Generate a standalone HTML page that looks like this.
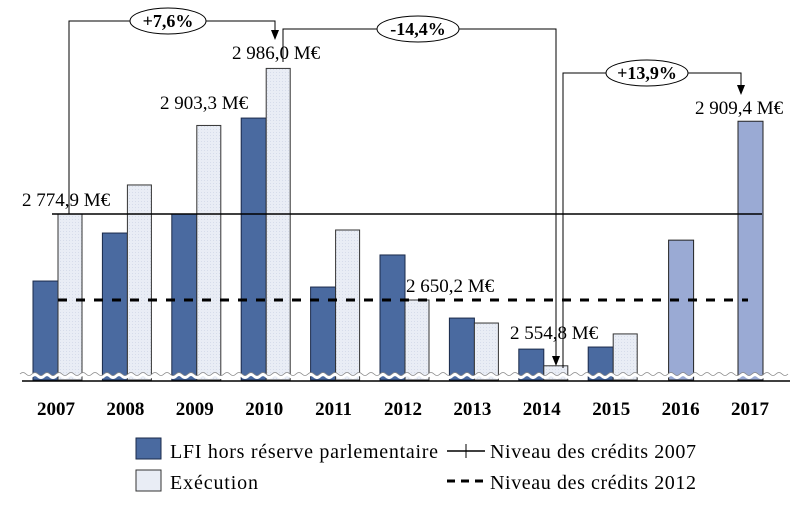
<!DOCTYPE html>
<html><head><meta charset="utf-8"><style>
body{margin:0;background:#fff;}
svg{display:block;font-family:"Liberation Serif",serif;}
</style></head><body>
<svg id="chart" width="811" height="512" viewBox="0 0 811 512">
<defs>
<pattern id="lp" width="3" height="3" patternUnits="userSpaceOnUse"><rect width="3" height="3" fill="#e9edf5"/><rect width="1" height="1" fill="#d6dcea"/></pattern>
</defs>
<g id="bars"></g>
<g id="overlay"></g>
</svg>
<script>
const years=['2007','2008','2009','2010','2011','2012','2013','2014','2015','2016','2017'];
const lfi=[2677.7,2747.3,2774.9,2914,2669,2715.5,2624,2579,2582,null,null];
const exec=[2774.9,2817,2903.3,2986,2751.7,2650.2,2616.8,2554.8,2601,null,null];
const plf=[null,null,null,null,null,null,null,null,null,2737,2909.4];
const level2007=2774.9, level2012=2650.2;
const NS='http://www.w3.org/2000/svg';
const y=v=>214-(v-2774.9)/1.45;
const cx=i=>56+i*69.4;
const baseY=380;
function el(t,a,p){const e=document.createElementNS(NS,t);for(const k in a)e.setAttribute(k,a[k]);(p||document.getElementById('bars')).appendChild(e);return e;}
years.forEach((yr,i)=>{
  const c=cx(i);
  if(lfi[i]!=null){const r=el('rect',{x:c-23,y:y(lfi[i]),width:25,height:baseY-y(lfi[i]),fill:'#4a6aa0',stroke:'#1a2a4a','stroke-width':1});
    }
  if(exec[i]!=null){const r=el('rect',{x:c+2,y:y(exec[i]),width:24,height:baseY-y(exec[i]),fill:'url(#lp)',stroke:'#333','stroke-width':1});
    }
  if(plf[i]!=null){const r=el('rect',{x:c-12,y:y(plf[i]),width:25,height:baseY-y(plf[i]),fill:'#9aaad4',stroke:'#222','stroke-width':1});
    }
  const t=el('text',{x:c,y:415,'text-anchor':'middle','font-size':19,'font-weight':'bold'});t.textContent=yr;
  
});
let d='M20 376';for(let x=20;x<780;x+=12)d+=' q3 -3 6 0 q3 3 6 0';
const w=el('path',{d:d,fill:'none',stroke:'#fff','stroke-width':3});

el('path',{d:d,fill:'none',stroke:'#888','stroke-width':0.8,transform:'translate(0,-2)'});
const ax=el('line',{x1:22,y1:381,x2:790,y2:381,stroke:'#000','stroke-width':1.5});

const l7=el('line',{x1:52,y1:y(level2007),x2:762,y2:y(level2007),stroke:'#000','stroke-width':1.5});

const l12=el('line',{x1:58,y1:y(level2012),x2:748,y2:y(level2012),stroke:'#000','stroke-width':3,'stroke-dasharray':'9 9'});

</script>
<svg style="position:absolute;left:0;top:0" width="811" height="512">
<g font-family="Liberation Serif,serif" font-size="19" fill="#000">
<text x="22" y="206">2 774,9 M€</text>
<text x="160" y="109">2 903,3 M€</text>
<text x="232" y="59">2 986,0 M€</text>
<text x="406" y="292">2 650,2 M€</text>
<text x="510" y="339">2 554,8 M€</text>
<text x="695" y="114">2 909,4 M€</text>
</g>
<g stroke="#000" fill="none" stroke-width="1">
<polyline points="69,214 69,21 275,21 275,31"/>
<polyline points="283,62 283,29 556,29 556,357"/>
<polyline points="563,368 563,73 741,73 741,86"/>
</g>
<g fill="#000">
<polygon points="271,30 279,30 275,40"/>
<polygon points="552,356 560,356 556,366"/>
<polygon points="737,85 745,85 741,95"/>
</g>
<g font-family="Liberation Serif,serif" font-size="18" font-weight="bold" text-anchor="middle">
<ellipse cx="168" cy="21" rx="38" ry="13" fill="#fff" stroke="#000"/>
<text x="168" y="27">+7,6%</text>
<ellipse cx="418" cy="29" rx="41" ry="13" fill="#fff" stroke="#000"/>
<text x="418" y="35">-14,4%</text>
<ellipse cx="647" cy="73" rx="41" ry="13" fill="#fff" stroke="#000"/>
<text x="647" y="79">+13,9%</text>
</g>
<g font-family="Liberation Serif,serif" font-size="20">
<rect x="136" y="438" width="25" height="21" fill="#4a6aa0" stroke="#1a2a4a"/>
<text x="170" y="458" textLength="268">LFI hors réserve parlementaire</text>
<rect x="136" y="470" width="25" height="21" fill="#e9edf5" stroke="#333"/>
<text x="170" y="489" textLength="88">Exécution</text>
<line x1="447" y1="451" x2="485" y2="451" stroke="#000" stroke-width="1.5"/>
<line x1="466" y1="444" x2="466" y2="458" stroke="#000"/>
<text x="490" y="458" textLength="206">Niveau des crédits 2007</text>
<line x1="447" y1="481" x2="485" y2="481" stroke="#000" stroke-width="3" stroke-dasharray="8 6"/>
<text x="490" y="489" textLength="206">Niveau des crédits 2012</text>
</g>
</svg>
</body></html>
